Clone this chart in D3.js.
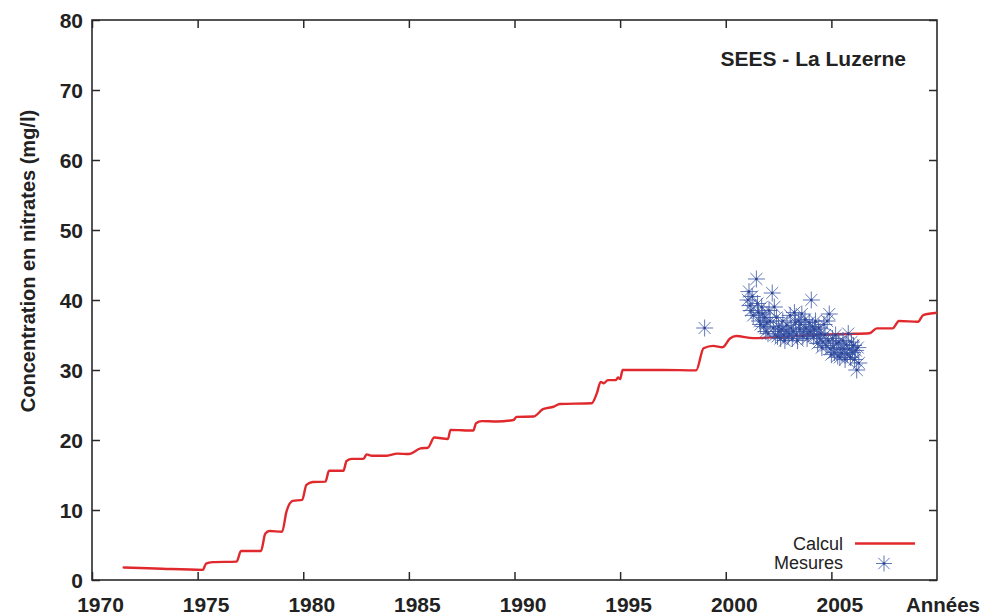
<!DOCTYPE html>
<html><head><meta charset="utf-8">
<script src="https://cdnjs.cloudflare.com/ajax/libs/d3/7.8.5/d3.min.js"></script>
<style>body{margin:0;background:#fff}svg{display:block}</style>
</head><body>
<script>
const xTicks = [1970,1975,1980,1985,1990,1995,2000,2005];
const yTicks = [0,10,20,30,40,50,60,70,80];
const calculYears = [1971.5,1973,1975.25,1975.4,1975.7,1976.85,1977.05,1978.0,1978.2,1978.4,1979.0,1979.2,1979.5,1979.95,1980.15,1980.45,1981.05,1981.22,1981.9,1982.05,1982.3,1982.85,1983.0,1983.25,1983.95,1984.45,1985.0,1985.55,1985.9,1986.2,1986.85,1986.97,1988.05,1988.18,1988.45,1989.15,1989.95,1990.1,1990.9,1991.35,1991.85,1992.15,1993.65,1993.9,1994.08,1994.22,1994.42,1994.8,1994.9,1995.0,1995.12,1997.0,1998.6,1998.95,1999.4,1999.85,2000.2,2000.5,2001.3,2002.55,2004.15,2005.7,2006.8,2007.15,2007.9,2008.2,2009.1,2009.35,2010.1];
const calculValues = [1.78,1.65,1.45,2.35,2.55,2.62,4.15,4.15,6.6,7.0,6.9,9.7,11.3,11.45,13.6,14.0,14.05,15.6,15.6,17.0,17.3,17.3,17.95,17.75,17.75,18.05,18.0,18.8,18.9,20.35,20.15,21.45,21.35,22.4,22.7,22.65,22.85,23.3,23.35,24.4,24.75,25.15,25.25,26.7,28.3,28.1,28.55,28.55,28.95,28.7,30.0,30.0,29.95,33.1,33.45,33.25,34.5,34.85,34.55,34.7,35.0,35.15,35.25,35.95,35.95,37.0,36.9,37.85,38.2];
const mesuresYears = [1999.0,
2001.05,2001.1,2001.15,2001.2,2001.25,2001.3,
2001.45,2001.5,2001.55,2001.6,2001.65,2001.7,2001.75,2001.8,2001.85,2001.9,2001.95,
2002.0,2002.05,2002.1,2002.2,2002.25,2002.3,2002.35,2002.4,2002.45,2002.5,2002.55,2002.6,2002.65,2002.7,2002.75,2002.8,2002.85,2002.9,2002.95,
2003.0,2003.05,2003.1,2003.15,2003.2,2003.25,2003.3,2003.35,2003.4,2003.45,2003.5,2003.55,2003.6,2003.65,2003.7,2003.75,2003.8,2003.85,2003.9,2003.95,
2004.0,2004.05,2004.1,2004.15,2004.2,2004.25,2004.3,2004.35,2004.4,2004.45,2004.5,2004.55,2004.6,2004.65,2004.7,2004.75,2004.8,2004.85,2004.9,2004.95,
2005.0,2005.05,2005.1,2005.15,2005.2,2005.25,2005.3,2005.35,2005.4,2005.45,2005.5,2005.55,2005.6,2005.65,2005.7,2005.75,2005.8,2005.85,2005.9,2005.95,
2006.0,2006.05,2006.1,2006.15,2006.2,2006.25,2006.3];
const mesuresValues = [36.0,
40.0,41.2,39.2,38.5,40.5,37.8,
43.0,39.5,38.2,37.0,36.5,39.0,38.0,36.2,37.5,35.5,36.8,
35.2,38.5,37.0,41.0,36.0,39.0,35.0,37.5,34.8,36.2,35.5,34.5,35.8,37.0,35.0,34.2,35.6,36.4,34.8,
35.2,37.8,36.0,34.5,35.5,38.2,36.8,35.0,34.2,37.0,35.8,36.5,38.0,34.8,35.5,37.2,36.0,34.5,35.2,36.8,
35.5,40.0,36.2,34.8,35.8,37.0,35.0,33.8,36.0,34.5,35.2,33.2,34.0,36.5,35.0,33.5,37.0,34.2,38.0,33.0,
32.2,34.5,33.2,32.5,35.0,33.8,32.0,34.0,31.8,33.0,32.4,34.2,33.0,31.5,33.6,32.2,35.2,33.0,31.8,34.0,
32.5,33.5,31.5,32.8,30.0,33.2,31.0];
const title = "SEES - La Luzerne";
const yLabel = "Concentration en nitrates (mg/l)";
const xLabel = "Années";
const legendNames = ["Calcul","Mesures"];

const W = 986, H = 616;
const m = {l:92, r:937, t:20, b:580};
const FONT = "'Liberation Sans', Arial, sans-serif";
const x = d3.scaleLinear().domain([1970,2010]).range([m.l, m.r]);
const y = d3.scaleLinear().domain([0,80]).range([m.b, m.t]);
const svg = d3.select("body").append("svg").attr("width",W).attr("height",H)
  .style("font-family",FONT);

svg.append("defs").append("clipPath").attr("id","clip").append("rect")
  .attr("x",m.l).attr("y",m.t).attr("width",m.r-m.l).attr("height",m.b-m.t);

const axisColor = "#2a2a2a";
const gx = svg.append("g").attr("transform",`translate(0,${m.b})`)
  .call(d3.axisBottom(x).tickValues(xTicks).tickSize(-8).tickSizeOuter(0).tickFormat(d3.format("d")));
const gxt = svg.append("g").attr("transform",`translate(0,${m.t})`)
  .call(d3.axisTop(x).tickValues(xTicks).tickSize(-8).tickSizeOuter(0).tickFormat(""));
const gy = svg.append("g").attr("transform",`translate(${m.l},0)`)
  .call(d3.axisLeft(y).tickValues(yTicks).tickSize(-8).tickSizeOuter(0));
const gyr = svg.append("g").attr("transform",`translate(${m.r},0)`)
  .call(d3.axisRight(y).tickValues(yTicks).tickSize(-8).tickSizeOuter(0).tickFormat(""));
[gx,gxt,gy,gyr].forEach(g=>{
  g.select(".domain").remove();
  g.selectAll(".tick line").attr("stroke",axisColor).attr("stroke-width",1.5);
});
gx.selectAll(".tick text").attr("dy",0).attr("y",32).attr("dx",8)
  .attr("font-size",21).attr("font-weight","bold").attr("fill","#222").attr("font-family",FONT);
gy.selectAll(".tick text").attr("x",-9).attr("dy","0.36em")
  .attr("font-size",21).attr("font-weight","bold").attr("fill","#222").attr("font-family",FONT);

svg.append("rect").attr("x",m.l).attr("y",m.t).attr("width",m.r-m.l).attr("height",m.b-m.t)
  .attr("fill","none").attr("stroke",axisColor).attr("stroke-width",1.6);

// calcul line
const calcul = calculYears.map((d,i)=>[d,calculValues[i]]);
svg.append("path").datum(calcul).attr("clip-path","url(#clip)")
  .attr("fill","none").attr("stroke","#e0292d").attr("stroke-width",2.4)
  .attr("stroke-linejoin","round").attr("stroke-linecap","round")
  .attr("d", d3.line().x(d=>x(d[0])).y(d=>y(d[1])).curve(d3.curveMonotoneX));

// star marker
const starColor = "#3a56a8";
function star(g, cx, cy, r){
  const s = g.append("g").attr("transform",`translate(${cx},${cy})`);
  for (let k=0;k<4;k++){
    const a = k*Math.PI/4;
    s.append("line").attr("x1",-r*Math.cos(a)).attr("y1",-r*Math.sin(a))
      .attr("x2",r*Math.cos(a)).attr("y2",r*Math.sin(a))
      .attr("stroke",starColor).attr("stroke-width",1).attr("stroke-opacity",0.8);
  }
  s.append("circle").attr("r",1.3).attr("fill","#2a3f8f");
}
const gm = svg.append("g").attr("clip-path","url(#clip)");
mesuresYears.forEach((yr,i)=> star(gm, x(yr), y(mesuresValues[i]), 8.5));

// title
svg.append("text").attr("x",906).attr("y",66).attr("text-anchor","end")
  .attr("font-size",21).attr("font-weight","bold").attr("fill","#222").text(title);

// axis labels
svg.append("text").attr("transform","translate(35,261) rotate(-90)").attr("text-anchor","middle")
  .attr("font-size",20).attr("font-weight","bold").attr("fill","#222").text(yLabel);
svg.append("text").attr("x",980).attr("y",612).attr("text-anchor","end")
  .attr("font-size",20.5).attr("font-weight","bold").attr("fill","#222").text(xLabel);

// legend
svg.append("text").attr("x",843).attr("y",550).attr("text-anchor","end")
  .attr("font-size",18).attr("fill","#222").text(legendNames[0]);
svg.append("line").attr("x1",855).attr("x2",915).attr("y1",543.5).attr("y2",543.5)
  .attr("stroke","#e0292d").attr("stroke-width",2.4);
svg.append("text").attr("x",843).attr("y",569).attr("text-anchor","end")
  .attr("font-size",18).attr("fill","#222").text(legendNames[1]);
star(svg, 884, 563.5, 8);
</script>
</body></html>
